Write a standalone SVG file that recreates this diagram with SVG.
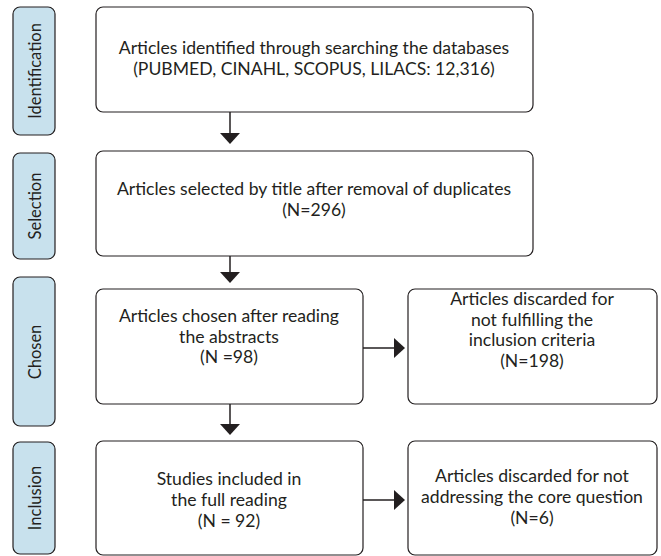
<svg xmlns="http://www.w3.org/2000/svg" width="661" height="556" viewBox="0 0 661 556">
<defs>
<style>
.lbl{fill:#c8e1ed;stroke:#231f20;stroke-width:1.2}
.box{fill:#ffffff;stroke:#231f20;stroke-width:1.2}
text{font-family:Lato,"Open Sans","Liberation Sans",sans-serif;font-size:17.6px;fill:#231f20;text-anchor:middle}
.side{font-size:16.5px}
.ln{stroke:#231f20;stroke-width:1.5;fill:none}
.ah{fill:#231f20}
</style>
</defs>
<rect width="661" height="556" fill="#ffffff"/>
<g id="lbl-identification"><rect class="lbl" x="13" y="7" width="42" height="128" rx="7"/><text class="side" transform="translate(41,71) rotate(-90)">Identification</text></g>
<g id="lbl-selection"><rect class="lbl" x="13" y="153" width="42" height="106" rx="7"/><text class="side" transform="translate(41,206) rotate(-90)">Selection</text></g>
<g id="lbl-chosen"><rect class="lbl" x="13" y="277" width="42" height="149" rx="7"/><text class="side" transform="translate(41,352) rotate(-90)">Chosen</text></g>
<g id="lbl-inclusion"><rect class="lbl" x="13" y="442" width="42" height="112" rx="7"/><text class="side" transform="translate(41,498) rotate(-90)">Inclusion</text></g>
<g id="n1"><rect class="box" x="96" y="7" width="437" height="105" rx="7"/><text x="314" y="54">Articles identified through searching the databases</text><text x="314" y="75">(PUBMED, CINAHL, SCOPUS, LILACS: 12,316)</text></g>
<g id="n2"><rect class="box" x="96" y="151" width="437" height="105" rx="7"/><text x="314" y="195">Articles selected by title after removal of duplicates</text><text x="314" y="216">(N=296)</text></g>
<g id="n3"><rect class="box" x="96" y="289" width="267" height="115" rx="7"/><text x="229" y="322">Articles chosen after reading</text><text x="229" y="343">the abstracts</text><text x="229" y="363">(N =98)</text></g>
<g id="n4"><rect class="box" x="408" y="289" width="249" height="115" rx="7"/><text x="532" y="305">Articles discarded for</text><text x="532" y="325.5">not fulfilling the</text><text x="532" y="346">inclusion criteria</text><text x="532" y="366.5">(N=198)</text></g>
<g id="n5"><rect class="box" x="96" y="441" width="267" height="114" rx="7"/><text x="229" y="485">Studies included in</text><text x="229" y="506">the full reading</text><text x="229" y="527">(N = 92)</text></g>
<g id="n6"><rect class="box" x="408" y="441" width="249" height="114" rx="7"/><text x="532" y="482">Articles discarded for not</text><text x="532" y="503">addressing the core question</text><text x="532" y="524">(N=6)</text></g>
<g id="connectors">
<line class="ln" x1="230" y1="112" x2="230" y2="134"/><polygon class="ah" points="220,133 240,133 230,144"/>
<line class="ln" x1="230" y1="256" x2="230" y2="273"/><polygon class="ah" points="220,272 240,272 230,283"/>
<line class="ln" x1="230" y1="404" x2="230" y2="425"/><polygon class="ah" points="220,424 240,424 230,435"/>
<line class="ln" x1="363" y1="348" x2="395" y2="348"/><polygon class="ah" points="394,338 394,358 405,348"/>
<line class="ln" x1="363" y1="500" x2="395" y2="500"/><polygon class="ah" points="394,490 394,510 405,500"/>
</g>
</svg>
